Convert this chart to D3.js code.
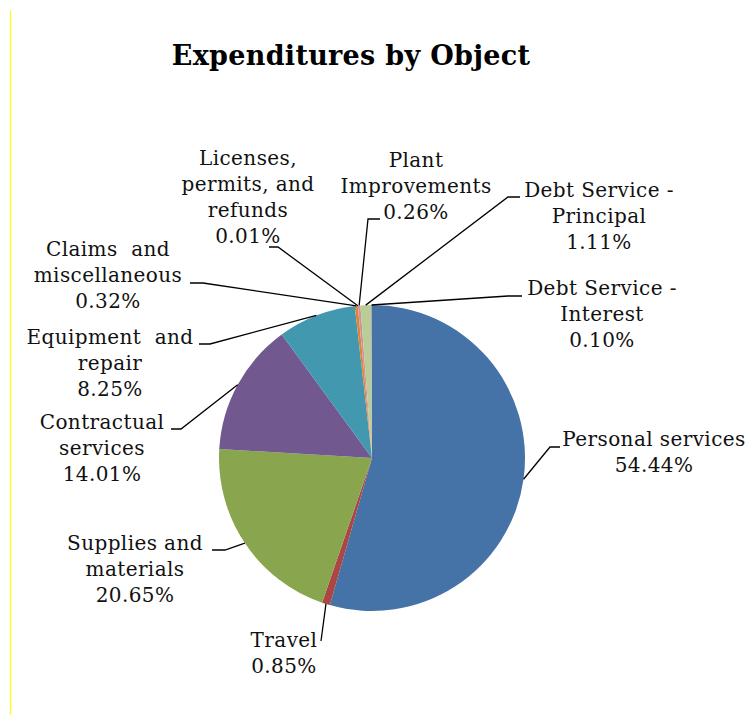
<!DOCTYPE html>
<html>
<head>
<meta charset="utf-8">
<title>Expenditures by Object</title>
<style>
  html, body { margin: 0; padding: 0; background: white; }
  .title { font-family: "DejaVu Serif", serif; font-weight: bold; font-size: 27px; letter-spacing: 0.3px; fill: #000; }
  .lbl { font-family: "DejaVu Serif", serif; font-size: 20px; letter-spacing: 0.4px; fill: #111; }
</style>
</head>
<body>
<script src="https://d3js.org/d3.v7.min.js"></script>
<script>
var categories = ["Personal services", "Travel", "Supplies and materials", "Contractual services",
  "Equipment and repair", "Claims and miscellaneous", "Licenses, permits, and refunds",
  "Plant Improvements", "Debt Service - Principal", "Debt Service - Interest"];
var shares = [54.44, 0.85, 20.65, 14.01, 8.25, 0.32, 0.01, 0.26, 1.11, 0.10];
var labelLines = [
  ["Personal services"], ["Travel"], ["Supplies and", "materials"], ["Contractual", "services"],
  ["Equipment  and", "repair"], ["Claims  and", "miscellaneous"], ["Licenses,", "permits, and", "refunds"],
  ["Plant", "Improvements"], ["Debt Service -", "Principal"], ["Debt Service -", "Interest"]
];
var colors = ["#4572a7", "#aa4643", "#89a54e", "#71588f", "#4198af", "#db843d",
  "#93a9cf", "#d19392", "#b9cd96", "#a99bbd"];

// label layout: centre x, first baseline, elbow of leader, end of short tick
var labelPos = [
  {x: 654, y: 446, ex: 550, ey: 447, hx: 560},
  {x: 284, y: 647, ex: 321, ey: 641, hx: 321},
  {x: 135, y: 550, ex: 225, ey: 550, hx: 212},
  {x: 102, y: 429, ex: 181, ey: 429, hx: 171},
  {x: 110, y: 344, ex: 210, ey: 344, hx: 199},
  {x: 108, y: 256, ex: 203, ey: 283, hx: 190},
  {x: 248, y: 165, ex: 278, ey: 247, hx: 269},
  {x: 416, y: 167, ex: 368, ey: 219, hx: 380},
  {x: 599, y: 197, ex: 508, ey: 197, hx: 520},
  {x: 602, y: 295, ex: 508, ey: 296, hx: 522}
];

var w = 746, h = 715;
var cx = 372, cy = 458, r = 153;
var lineH = 26;

var svg = d3.select("body").append("svg")
  .attr("width", w)
  .attr("height", h);

svg.append("rect").attr("width", w).attr("height", h).attr("fill", "white");

// yellow edge line on the left
svg.append("line")
  .attr("x1", 10.5).attr("x2", 10.5)
  .attr("y1", 11).attr("y2", h)
  .attr("stroke", "#ffff00")
  .attr("stroke-width", 1.2);

svg.append("text")
  .attr("class", "title")
  .attr("x", 351)
  .attr("y", 65)
  .attr("text-anchor", "middle")
  .text("Expenditures by Object");

var pie = d3.pie().sort(null).value(function(d) { return d; });
var arcs = pie(shares);

var arc = d3.arc().innerRadius(0).outerRadius(r);
var edge = d3.arc().innerRadius(r).outerRadius(r);

var g = svg.append("g").attr("transform", "translate(" + cx + "," + cy + ")");

g.selectAll("path.slice")
  .data(arcs)
  .enter()
  .append("path")
  .attr("class", "slice")
  .attr("d", arc)
  .attr("fill", function(d, i) { return colors[i]; });

// leader lines
svg.selectAll("path.leader")
  .data(arcs)
  .enter()
  .append("path")
  .attr("class", "leader")
  .attr("d", function(d, i) {
    var p = edge.centroid(d);
    var L = labelPos[i];
    return "M" + (cx + p[0]) + "," + (cy + p[1]) + "L" + L.ex + "," + L.ey + "L" + L.hx + "," + L.ey;
  })
  .attr("fill", "none")
  .attr("stroke", "#000")
  .attr("stroke-width", 1.3);

// labels
var labels = svg.selectAll("text.lbl")
  .data(arcs)
  .enter()
  .append("text")
  .attr("class", "lbl")
  .attr("text-anchor", "middle")
  .attr("xml:space", "preserve");

labels.each(function(d, i) {
  var t = d3.select(this);
  var L = labelPos[i];
  var lines = labelLines[i].concat([shares[i].toFixed(2) + "%"]);
  lines.forEach(function(s, k) {
    t.append("tspan")
      .attr("x", L.x)
      .attr("y", L.y + k * lineH)
      .text(s);
  });
});
</script>
</body>
</html>
